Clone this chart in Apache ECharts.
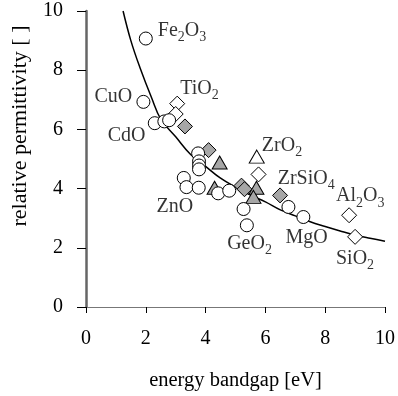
<!DOCTYPE html>
<html><head><meta charset="utf-8">
<script src="https://cdn.jsdelivr.net/npm/echarts@6/dist/echarts.min.js"></script>
<style>html,body{margin:0;padding:0;background:#fff}#c{width:398px;height:396px}</style>
</head><body><div id="c"></div>
<script>
// ---- data ----
const xTicks = [0, 2, 4, 6, 8, 10];
const yTicks = [0, 2, 4, 6, 8, 10];
const fitCurve = [
  [1.24, 10.0], [1.5, 9.0], [1.8, 8.1], [2.2, 7.05], [2.5, 6.35], [3.0, 5.75],
  [3.5, 5.15], [4.0, 4.75], [4.5, 4.35], [5.0, 4.05], [5.5, 3.78], [6.0, 3.55],
  [6.5, 3.28], [7.0, 3.08], [7.5, 2.88], [8.0, 2.72], [8.5, 2.57], [9.0, 2.43],
  [9.5, 2.32], [10.0, 2.22]
];
const openCircles = [
  [2.0, 9.07], [1.92, 6.93], [2.30, 6.21], [2.62, 6.27], [2.78, 6.31],
  [3.75, 5.19], [3.78, 4.92], [3.78, 4.78], [3.78, 4.65],
  [3.27, 4.36], [3.36, 4.05], [3.77, 4.03], [4.42, 3.84], [4.79, 3.93],
  [5.27, 3.31], [5.38, 2.76], [6.77, 3.38], [7.27, 3.04]
];
const openDiamonds = [[3.05, 6.87], [3.0, 6.52], [5.77, 4.48], [8.8, 3.1], [9.0, 2.37]];
const grayDiamonds = [[3.31, 6.1], [4.1, 5.3], [5.2, 4.1], [5.3, 3.98], [6.49, 3.77]];
const openTriangles = [[5.71, 5.08]];
const grayTriangles = [[4.47, 4.88], [4.3, 4.03], [5.7, 4.03], [5.6, 3.72]];
// material annotations: [text, x, y, side]
const materialLabels = [
  ['Fe{s|2}O{s|3}', 2.40, 9.34, 'left'],
  ['CuO', 1.545, 7.11, 'right'],
  ['CdO', 1.99, 5.79, 'right'],
  ['TiO{s|2}', 3.15, 7.39, 'left'],
  ['ZnO', 2.36, 3.40, 'left'],
  ['ZrO{s|2}', 5.88, 5.46, 'left'],
  ['ZrSiO{s|4}', 6.41, 4.34, 'left'],
  ['Al{s|2}O{s|3}', 8.36, 3.75, 'left'],
  ['GeO{s|2}', 4.72, 2.15, 'left'],
  ['MgO', 6.67, 2.35, 'left'],
  ['SiO{s|2}', 8.36, 1.63, 'left']
];
const xName = 'energy bandgap [eV]';
const yName = 'relative permittivity [ ]';

// ---- chart ----
const FONT = '"Liberation Serif", "Times New Roman", serif';
const chart = echarts.init(document.getElementById('c'), null, {renderer: 'canvas'});
const gray = '#a6a6a6';
const mk = (data, symbol, size, fill, z) => ({
  type: 'scatter', data, symbol, symbolSize: size, z,
  itemStyle: {color: fill, borderColor: '#000', borderWidth: 1, opacity: 1},
  emphasis: {disabled: true}, silent: true
});
chart.setOption({
  animation: false,
  grid: {left: 86, right: 11, top: 11, bottom: 83, containLabel: false},
  xAxis: [{
    type: 'value', min: 0, max: 10, interval: 2,
    axisLine: {show: true, onZero: false, lineStyle: {color: '#000', width: 1}},
    axisTick: {show: true, inside: false, length: 6, lineStyle: {color: '#000'}},
    splitLine: {show: false},
    axisLabel: {fontFamily: FONT, fontSize: 20, color: '#000', margin: 22,
      formatter: v => xTicks.includes(v) ? String(v) : ''},
    name: xName, nameLocation: 'middle', nameGap: 63,
    nameTextStyle: {fontFamily: FONT, fontSize: 20.5, color: '#000'}
  }, {
    type: 'value', min: 0, max: 10, position: 'top',
    axisLine: {show: true, lineStyle: {color: '#777', width: 1}},
    axisTick: {show: false}, axisLabel: {show: false}, splitLine: {show: false}
  }],
  yAxis: [{
    type: 'value', min: 0, max: 10, interval: 2,
    axisLine: {show: true, onZero: false, lineStyle: {color: '#000', width: 1}},
    axisTick: {show: true, inside: false, length: 9, lineStyle: {color: '#000'}},
    splitLine: {show: false},
    axisLabel: {fontFamily: FONT, fontSize: 20, color: '#000', margin: 23,
      formatter: v => yTicks.includes(v) ? String(v) : ''}
  }, {
    type: 'value', min: 0, max: 10, position: 'right',
    axisLine: {show: true, lineStyle: {color: '#666', width: 2.5}},
    axisTick: {show: false}, axisLabel: {show: false}, splitLine: {show: false}
  }],
  graphic: [{
    type: 'text', x: 20, y: 126, rotation: Math.PI / 2,
    style: {text: yName, fontFamily: FONT, fontSize: 22, fill: '#000',
      align: 'center', verticalAlign: 'middle'}
  }],
  series: [
    {type: 'line', data: fitCurve, smooth: 0.4, showSymbol: false, symbol: 'none',
      lineStyle: {color: '#000', width: 1.5}, z: 1, silent: true},
    mk(grayDiamonds, 'diamond', 15, gray, 2),
    mk(openDiamonds, 'diamond', 15, '#fff', 2),
    mk(grayTriangles, 'triangle', [15, 13], gray, 3),
    mk(openTriangles, 'triangle', [15, 13], '#fff', 3),
    mk(openCircles, 'circle', 13, '#fff', 4),
    {
      type: 'scatter', symbolSize: 0, z: 5, silent: true,
      data: materialLabels.map(l => ({
        value: [l[1], l[2]],
        label: {show: true, position: 'inside', formatter: l[0], align: l[3],
          fontFamily: FONT, fontSize: 20, color: '#000', lineHeight: 28,
          rich: {s: {fontFamily: FONT, fontSize: 14, color: '#000', verticalAlign: 'bottom', lineHeight: 14}}}
      }))
    }
  ]
});
</script></body></html>
